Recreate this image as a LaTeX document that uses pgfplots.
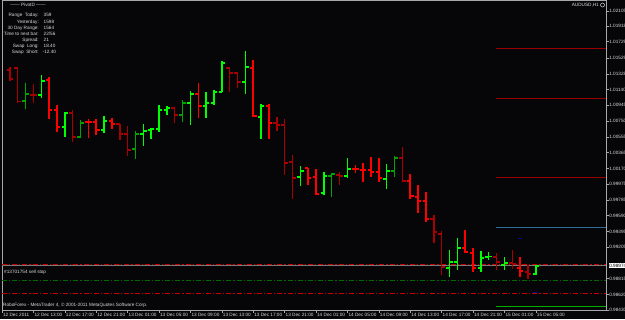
\documentclass[border=0pt]{standalone}
\usepackage{fontspec}
\setmainfont{Liberation Sans}
\usepackage{pgfplots}
\usepackage{pgfplotstable}
\pgfplotsset{compat=1.18}
\definecolor{bg}{HTML}{060608}
\definecolor{cG}{HTML}{00FF00}
\definecolor{cg}{HTML}{00A400}
\definecolor{cR}{HTML}{FF0000}
\definecolor{cr}{HTML}{A80000}
\definecolor{lvl}{HTML}{9A0000}
\definecolor{lblue}{HTML}{2E6D9A}
\definecolor{ddred}{HTML}{C40000}
\definecolor{ddgreen}{HTML}{006A00}
\definecolor{gsolid}{HTML}{00B000}
\definecolor{bidc}{HTML}{7A7A7A}
\definecolor{framec}{HTML}{A8A8A8}
\definecolor{txt}{HTML}{DADADA}
\newcommand\mt{\fontsize{4.7}{5.6}\selectfont}

% bright green bars
\pgfplotstableread{
t O H L C
14 1.01072 1.01318 1.01036 1.01245
17 1.00679 1.00864 1.00556 1.00851
22 1.00642 1.00814 1.00605 1.00753
27 1.00593 1.00716 1.00446 1.00630
28 1.00642 1.00667 1.00532 1.00655
29 1.00655 1.00950 1.00618 1.00888
30 1.00888 1.00937 1.00827 1.00913
33 1.00974 1.01122 1.00704 1.01085
35 1.00937 1.01109 1.00790 1.00974
36 1.00974 1.01134 1.00950 1.01109
37 1.01109 1.01490 1.01105 1.01466
40 1.01232 1.01613 1.01085 1.01417
42 1.00802 1.00962 1.00532 1.00937
47 1.00065 1.00200 0.99954 1.00138
50 0.99868 1.00126 0.99843 1.00077
53 1.00077 1.00298 1.00052 1.00163
58 1.00040 1.00224 0.99917 1.00138
66 0.98946 0.99168 0.98836 0.99020
67 0.99020 0.99315 0.98922 0.99192
70 0.98946 0.99155 0.98897 0.99069
71 0.99081 0.99143 0.99045 0.99085
73 0.98983 0.99081 0.98922 0.99008
77 0.98873 0.98983 0.98860 0.98971
}\tG
% dark green bars
\pgfplotstableread{
t O H L C
12 1.00999 1.01220 1.00900 1.01085
19 1.00556 1.00765 1.00552 1.00728
26 1.00409 1.00630 1.00286 1.00593
32 1.00827 1.01011 1.00741 1.00974
51 1.00077 1.00114 0.99819 1.00102
59 1.00138 1.00323 1.00065 1.00298
}\tg
% bright red bars
\pgfplotstableread{
t O H L C
15 1.01257 1.01294 1.00778 1.00888
16 1.00888 1.00950 1.00618 1.00679
20 1.00741 1.00778 1.00544 1.00741
21 1.00741 1.00778 1.00581 1.00642
23 1.00753 1.00790 1.00655 1.00716
34 1.01085 1.01220 1.00790 1.00937
41 1.01404 1.01503 1.00802 1.00814
43 1.00937 1.00962 1.00532 1.00728
48 1.00175 1.00175 0.99966 1.00052
49 1.00065 1.00163 0.99843 0.99856
54 1.00163 1.00212 1.00114 1.00163
55 1.00151 1.00237 1.00003 1.00151
56 1.00151 1.00311 1.00065 1.00126
57 1.00126 1.00298 1.00003 1.00052
61 1.00016 1.00102 0.99794 0.99831
62 0.99819 0.99966 0.99622 0.99770
63 0.99770 0.99880 0.99512 0.99548
68 0.99192 0.99413 0.99131 0.99143
69 0.99131 0.99192 0.98897 0.98946
75 0.98946 0.99081 0.98836 0.98909
}\tR
% dark red bars
\pgfplotstableread{
t O H L C
10 1.01380 1.01417 1.01245 1.01269
11 1.01404 1.01408 1.00974 1.00993
13 1.01072 1.01208 1.00974 1.01072
18 1.00851 1.00888 1.00495 1.00556
24 1.00716 1.00716 1.00519 1.00593
25 1.00593 1.00692 1.00323 1.00397
31 1.00913 1.00925 1.00728 1.00827
38 1.01404 1.01404 1.01109 1.01343
39 1.01343 1.01343 1.01159 1.01232
44 1.00728 1.00802 1.00630 1.00704
45 1.00704 1.00778 1.00089 1.00237
46 1.00249 1.00335 0.99794 1.00052
52 1.00089 1.00126 0.99966 1.00077
60 1.00298 1.00433 1.00003 1.00016
64 0.99548 0.99598 0.99254 0.99389
65 0.99364 0.99401 0.98860 0.98959
72 0.99081 0.99131 0.98922 0.99020
74 0.99008 0.99168 0.98934 0.98995
76 0.98897 0.98983 0.98811 0.98873
}\tr

\pgfplotsset{
  hl/.style={line width=1.5bp, quiver={u=0,v=\thisrow{H}-\thisrow{L}}},
  op/.style={line width=1.3bp, quiver={u=-0.42,v=0}},
  cl/.style={line width=1.3bp, quiver={u=0.42,v=0}},
}

\begin{document}
\begin{tikzpicture}[x=1bp,y=1bp]
\fill[bg] (0,0) rectangle (625,319);
\useasboundingbox (0,0) rectangle (625,319);
\begin{axis}[
  at={(2bp,9bp)}, anchor=south west, scale only axis,
  width=604bp, height=310bp,
  xmin=9, xmax=85.94, ymin=0.98430, ymax=1.02240,
  clip mode=individual,
  axis line style={draw=framec, line width=0.6bp},
  tick align=outside, major tick length=2.5bp,
  tick style={draw=framec, line width=0.5bp},
  xtick pos=bottom, ytick pos=right, yticklabel pos=right,
  ytick={0.98430,0.98620,0.98815,0.99205,0.99395,0.99590,0.99785,0.99975,1.00170,1.00365,1.00555,1.00750,1.00945,1.01140,1.01328,1.01529,1.01729,1.01918,1.02105},
  yticklabels={0.98430,0.98620,0.98815,0.99205,0.99395,0.99590,0.99785,0.99975,1.00170,1.00365,1.00555,1.00750,1.00945,1.01140,1.01328,1.01529,1.01729,1.01918,1.02105},
  xtick={9,13,...,77},
  xticklabels={12 Dec 2011, 12 Dec 13:00, 12 Dec 17:00, 12 Dec 21:00, 13 Dec 01:00, 13 Dec 05:00, 13 Dec 09:00, 13 Dec 13:00, 13 Dec 17:00, 13 Dec 21:00, 14 Dec 01:00, 14 Dec 05:00, 14 Dec 09:00, 14 Dec 13:00, 14 Dec 17:00, 14 Dec 21:00, 15 Dec 01:00, 15 Dec 05:00},
  yticklabel style={font=\mt, text=txt, anchor=west, inner sep=0.6bp},
  xticklabel style={font=\mt, text=txt, anchor=north west, inner sep=0.6bp, xshift=0.3bp},
]
% level lines
\addplot[draw=lvl, line width=0.9bp] coordinates {(71.93,1.01650) (85.94,1.01650)};
\addplot[draw=lvl, line width=0.9bp] coordinates {(71.93,1.01029) (85.94,1.01029)};
\addplot[draw=lvl, line width=0.9bp] coordinates {(71.93,1.00065) (85.94,1.00065)};
\addplot[draw=lblue, line width=0.9bp] coordinates {(71.93,0.99450) (85.94,0.99450)};
\addplot[draw=gsolid, line width=0.9bp] coordinates {(71.93,0.98479) (85.94,0.98479)};
\addplot[draw=bidc, line width=0.7bp] coordinates {(9,0.98978) (85.94,0.98978)};
\addplot[draw=ddred, line width=0.8bp, dash pattern=on 5bp off 2bp on 1.2bp off 2bp] coordinates {(9,0.98995) (85.94,0.98995)};
\addplot[draw=ddgreen, line width=0.8bp, dash pattern=on 5bp off 2bp on 1.2bp off 2bp] coordinates {(9,0.98799) (85.94,0.98799)};
\addplot[draw=ddred, line width=0.8bp, dash pattern=on 5bp off 2bp on 1.2bp off 2bp] coordinates {(9,0.98639) (85.94,0.98639)};
\addplot[draw=blue!70!black, line width=0.9bp] coordinates {(74.7,0.99315) (75.1,0.99315)};
\addplot[draw=blue!70!black, line width=0.9bp] coordinates {(76.7,0.98643) (77.1,0.98643)};
% bars
\addplot[draw=cG, hl] table[x=t,y=L] {\tG};
\addplot[draw=cG, op] table[x=t,y=O] {\tG};
\addplot[draw=cG, cl] table[x=t,y=C] {\tG};
\addplot[draw=cg, hl] table[x=t,y=L] {\tg};
\addplot[draw=cg, op] table[x=t,y=O] {\tg};
\addplot[draw=cg, cl] table[x=t,y=C] {\tg};
\addplot[draw=cR, hl] table[x=t,y=L] {\tR};
\addplot[draw=cR, op] table[x=t,y=O] {\tR};
\addplot[draw=cR, cl] table[x=t,y=C] {\tR};
\addplot[draw=cr, hl] table[x=t,y=L] {\tr};
\addplot[draw=cr, op] table[x=t,y=O] {\tr};
\addplot[draw=cr, cl] table[x=t,y=C] {\tr};
% current price box
\node[fill=white, text=black, font=\mt, anchor=west, inner sep=0.6bp, xshift=2.5bp] at (axis cs:85.94,0.98978) {0.98974};
\end{axis}
% info panel
\begin{scope}[every node/.style={font=\mt, text=txt, inner sep=0pt}]
\node at (28,314.5) {------ PivotD ------};
\node[anchor=east] at (39,303.7) {Range\ \ Today:};
\node[anchor=west] at (43.5,303.7) {359};
\node[anchor=east] at (39,297) {Yesterday:};
\node[anchor=west] at (43.5,297) {1598};
\node[anchor=east] at (39,291) {30 Day Range:};
\node[anchor=west] at (43.5,291) {1564};
\node[anchor=east] at (39,285) {Time to next bar:};
\node[anchor=west] at (43.5,285) {22/56};
\node[anchor=east] at (39,279) {Spread:};
\node[anchor=west] at (43.5,279) {21};
\node[anchor=east] at (39,273) {Swap\ \ Long:};
\node[anchor=west] at (43.5,273) {18.40};
\node[anchor=east] at (39,267) {Swap\ \ Short:};
\node[anchor=west] at (42.5,267) {-12.40};
\node[anchor=east] at (599,314) {AUDUSD,H1};
\node[anchor=west] at (4,47) {\#13701754 sell stop};
\node[anchor=west] at (3,13.5) {RoboForex - MetaTrader 4, © 2001-2011 MetaQuotes Software Corp.};
\end{scope}
\draw[txt, line width=0.5bp] (602.5,314) circle (2bp);
\end{tikzpicture}
\end{document}
